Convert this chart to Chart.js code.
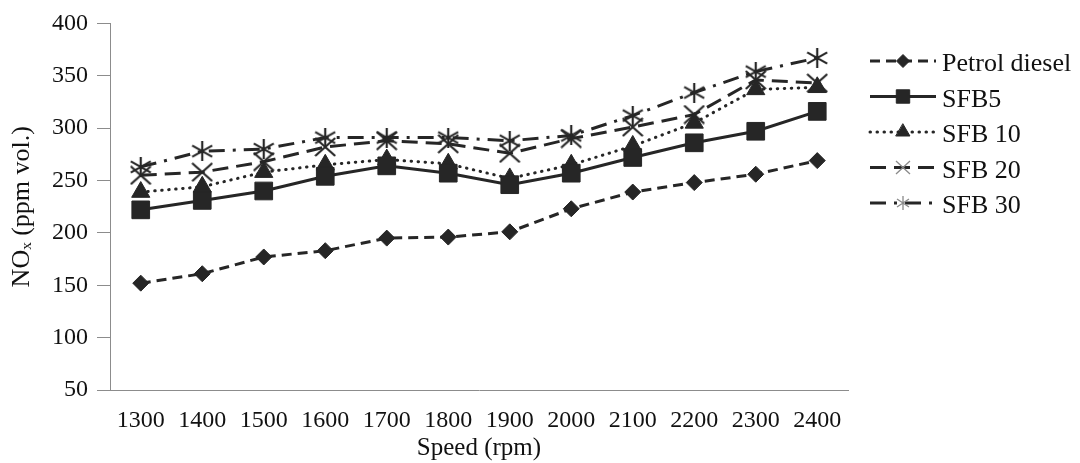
<!DOCTYPE html>
<html>
<head>
<meta charset="utf-8">
<script src="https://cdn.jsdelivr.net/npm/chart.js@4.4.1/dist/chart.umd.min.js"></script>
<style>
html,body{margin:0;padding:0;background:#fff}
#wrap{width:1080px;height:463px;position:relative}
</style>
</head>
<body>
<div id="wrap"><canvas id="c"></canvas></div>
<script>
// ---- data ----
const speeds = ['1300','1400','1500','1600','1700','1800','1900','2000','2100','2200','2300','2400'];
const petrolDiesel = [152, 161, 177, 183, 195, 196, 201, 223, 239, 248, 256, 269];
const sfb5  = [222, 231, 240, 254, 264, 257, 246, 257, 272, 286, 297, 316];
const sfb10 = [239, 244, 258, 265, 270, 266, 252, 265, 283, 305, 337, 339];
const sfb20 = [255, 258, 268, 282, 288, 285, 276, 290, 301, 313, 346, 343];
const sfb30 = [263, 278, 280, 291, 291, 291, 288, 293, 312, 334, 354, 367];
const seriesNames = ['Petrol diesel', 'SFB5', 'SFB 10', 'SFB 20', 'SFB 30'];
const yMin = 50, yMax = 400, yStep = 50;
const xTitle = 'Speed (rpm)';
const yTitle = 'NOₓ (ppm vol.)';

// ---- styles ----
const INK = '#262626';
const FONT = '"Liberation Serif", "Times New Roman", serif';

function markerCanvas(kind, w, h, lw, color) {
  const c = document.createElement('canvas');
  c.width = w; c.height = h;
  const g = c.getContext('2d');
  g.strokeStyle = color; g.lineWidth = lw; g.lineCap = 'butt';
  g.beginPath();
  if (kind === 'x') {
    g.moveTo(1, 1); g.lineTo(w - 1, h - 1);
    g.moveTo(1, h - 1); g.lineTo(w - 1, 1);
  } else {
    g.moveTo(w / 2, 0); g.lineTo(w / 2, h);
    g.moveTo(1, h * 0.22); g.lineTo(w - 1, h * 0.78);
    g.moveTo(1, h * 0.78); g.lineTo(w - 1, h * 0.22);
  }
  g.stroke();
  return c;
}
const xMark = markerCanvas('x', 22, 20, 2.2, INK);
const starMark = markerCanvas('star', 22, 20, 2.2, INK);
const xMarkLegend = markerCanvas('x', 16, 15, 1.3, '#8a8a8a');
const starMarkLegend = markerCanvas('star', 14, 14, 1.3, '#8a8a8a');

function ds(label, data, dash, cap, style, radius, legendStyle, legendRadius) {
  return {
    label, data,
    borderColor: INK, backgroundColor: INK,
    borderWidth: 3, borderDash: dash, borderCapStyle: cap,
    pointStyle: style, pointRadius: radius, pointHoverRadius: radius,
    pointBackgroundColor: INK, pointBorderColor: INK, pointBorderWidth: 1,
    tension: 0, fill: false,
    legendStyle, legendRadius
  };
}

const lineLegend = {
  id: 'lineLegend',
  afterDraw(chart) {
    const ctx = chart.ctx;
    const x0 = 870, x1 = 936, tx = 942, y0 = 61, dy = 35.5;
    chart.data.datasets.forEach((d, i) => {
      const y = y0 + i * dy;
      ctx.save();
      ctx.strokeStyle = INK;
      ctx.lineWidth = d.borderWidth;
      ctx.lineCap = d.borderCapStyle || 'butt';
      ctx.setLineDash(d.borderDash || []);
      ctx.beginPath(); ctx.moveTo(x0, y); ctx.lineTo(x1, y); ctx.stroke();
      ctx.setLineDash([]);
      ctx.fillStyle = INK; ctx.strokeStyle = INK; ctx.lineWidth = 1;
      Chart.helpers.drawPoint(ctx, {pointStyle: d.legendStyle, radius: d.legendRadius, borderWidth: 1, rotation: 0}, (x0 + x1) / 2, y);
      ctx.fillStyle = '#111';
      ctx.font = '26px ' + FONT;
      ctx.textBaseline = 'alphabetic';
      ctx.textAlign = 'left';
      ctx.fillText(d.label, tx, y + 10);
      ctx.restore();
    });
  }
};

new Chart(document.getElementById('c'), {
  type: 'line',
  data: {
    labels: speeds,
    datasets: [
      ds(seriesNames[0], petrolDiesel, [10, 6], 'butt', 'rectRot', 8, 'rectRot', 6.5),
      ds(seriesNames[1], sfb5, [], 'butt', 'rect', 12.5, 'rect', 9.5),
      ds(seriesNames[2], sfb10, [0.5, 6.5], 'round', 'triangle', 10.5, 'triangle', 8),
      ds(seriesNames[3], sfb20, [16, 8], 'butt', xMark, 10, xMarkLegend, 7),
      ds(seriesNames[4], sfb30, [16, 8, 3, 8], 'butt', starMark, 10, starMarkLegend, 7)
    ]
  },
  options: {
    responsive: true,
    maintainAspectRatio: false,
    animation: false,
    layout: {padding: {left: 0, right: 232, top: 13, bottom: 0}},
    plugins: {legend: {display: false}, tooltip: {enabled: false}},
    scales: {
      x: {
        type: 'category',
        offset: true,
        grid: {display: false, drawTicks: false},
        border: {display: true, color: '#8c8c8c', width: 1},
        ticks: {color: '#111', font: {family: FONT, size: 24}, padding: 16, maxRotation: 0, autoSkip: false},
        title: {display: true, text: xTitle, color: '#111', font: {family: FONT, size: 25}, padding: {top: 0, bottom: 0}},
        afterFit(s) { s.height = 73; }
      },
      y: {
        min: yMin, max: yMax,
        ticks: {stepSize: yStep, color: '#111', font: {family: FONT, size: 24}, padding: 9},
        grid: {display: true, drawOnChartArea: false, drawTicks: true, tickLength: 13, color: '#8c8c8c'},
        border: {display: true, color: '#8c8c8c', width: 1},
        title: {display: true, text: yTitle, color: '#111', font: {family: FONT, size: 26}, padding: {top: 7, bottom: 4}},
        afterFit(s) { s.width = 110; }
      }
    }
  },
  plugins: [lineLegend]
});
</script>
</body>
</html>
